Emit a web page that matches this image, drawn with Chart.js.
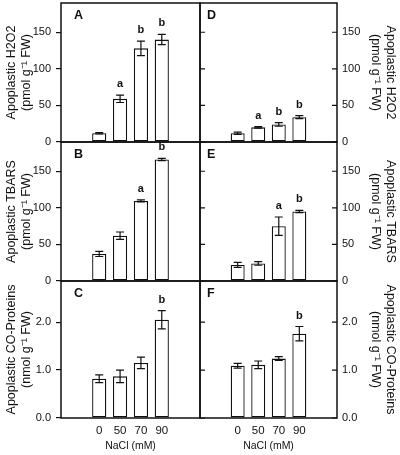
<!DOCTYPE html>
<html>
<head>
<meta charset="utf-8">
<script src="https://cdn.jsdelivr.net/npm/chart.js@4.4.0/dist/chart.umd.min.js"></script>
<style>
  body { margin: 0; background: #fff; }
  #fig { position: relative; width: 400px; height: 455px; overflow: hidden; }
  canvas { position: absolute; }
</style>
</head>
<body>
<div id="fig">
  <canvas id="pA" width="202" height="150" style="left:0;top:0"></canvas>
  <canvas id="pB" width="202" height="150" style="left:0;top:139px"></canvas>
  <canvas id="pC" width="202" height="177" style="left:0;top:278px"></canvas>
  <canvas id="pD" width="210" height="150" style="left:190px;top:0"></canvas>
  <canvas id="pE" width="210" height="150" style="left:190px;top:139px"></canvas>
  <canvas id="pF" width="210" height="177" style="left:190px;top:278px"></canvas>
</div>
<script>
// NaCl treatments
const categories = ["0", "50", "70", "90"];

// H2O2 (pmol g-1 FW)
const h2o2A = [12, 59, 128, 140];
const h2o2AErr = [1, 5, 10, 7];
const h2o2ASig = ["", "a", "b", "b"];
const h2o2D = [12, 20, 24, 34];
const h2o2DErr = [1.5, 1, 2.5, 2];
const h2o2DSig = ["", "a", "b", "b"];

// TBARS (pmol g-1 FW)
const tbarsB = [37, 62, 109.5, 166];
const tbarsBErr = [3.5, 5, 1.5, 1.5];
const tbarsBSig = ["", "", "a", "b"];
const tbarsE = [22, 24, 75, 95];
const tbarsEErr = [3.5, 2.5, 12.5, 1.5];
const tbarsESig = ["", "", "a", "b"];

// CO-proteins (nmol g-1 FW)
const coC = [0.82, 0.87, 1.15, 2.05];
const coCErr = [0.08, 0.13, 0.12, 0.19];
const coCSig = ["", "", "", "b"];
const coF = [1.09, 1.11, 1.24, 1.76];
const coFErr = [0.05, 0.08, 0.04, 0.15];
const coFSig = ["", "", "", "b"];

const pmolTicks = [0, 50, 100, 150];
const nmolTicks = [0, 1, 2];

const FONT = "'Liberation Sans', Arial, sans-serif";

// error bars, letters and frame
const extras = {
    id: "extras",
    afterDatasetsDraw(chart, args, opts) {
        const ctx = chart.ctx;
        const y = chart.scales.y;
        const meta = chart.getDatasetMeta(0);
        ctx.save();
        ctx.strokeStyle = "#111";
        ctx.lineWidth = 1.2;
        opts.values.forEach((v, i) => {
            const x = meta.data[i].x;
            const top = y.getPixelForValue(v + opts.errors[i]);
            const bot = y.getPixelForValue(v - opts.errors[i]);
            ctx.beginPath();
            ctx.moveTo(x, top); ctx.lineTo(x, bot);
            ctx.moveTo(x - 4, top); ctx.lineTo(x + 4, top);
            ctx.moveTo(x - 4, bot); ctx.lineTo(x + 4, bot);
            ctx.stroke();
            if (opts.sig[i]) {
                ctx.fillStyle = "#111";
                ctx.font = "bold 11px " + FONT;
                ctx.textAlign = "center";
                ctx.textBaseline = "middle";
                ctx.fillText(opts.sig[i], x, top - 11);
            }
        });
        ctx.restore();
    },
    afterDraw(chart, args, opts) {
        const ctx = chart.ctx;
        const a = chart.chartArea;
        ctx.save();
        ctx.strokeStyle = "#111";
        ctx.lineWidth = 1.5;
        ctx.strokeRect(a.left, a.top, a.right - a.left, a.bottom - a.top);
        if (opts.right) {
            ctx.lineWidth = 1.2;
            chart.scales.y.ticks.forEach(t => {
                const py = chart.scales.y.getPixelForValue(t.value);
                ctx.beginPath();
                ctx.moveTo(a.left, py); ctx.lineTo(a.left + 5, py);
                ctx.moveTo(a.right - 5, py); ctx.lineTo(a.right, py);
                ctx.stroke();
            });
        }
        ctx.fillStyle = "#111";
        ctx.font = "bold 12.5px " + FONT;
        ctx.textAlign = "left";
        ctx.textBaseline = "middle";
        ctx.fillText(opts.letter, a.left + (opts.right ? 7 : 13), a.top + 13);
        ctx.restore();
    }
};

function panel(id, o) {
    const right = o.side === "right";
    new Chart(document.getElementById(id), {
        type: "bar",
        data: {
            datasets: [{
                data: o.values.map((v, i) => ({ x: i, y: v })),
                backgroundColor: "#fff",
                borderColor: "#111",
                borderWidth: 1.3,
                borderSkipped: false,
                barPercentage: 0.68,
                categoryPercentage: 1
            }]
        },
        options: {
            responsive: false,
            animation: false,
            devicePixelRatio: 1,
            layout: {
                padding: {
                    top: 3,
                    bottom: o.bottom ? 0 : 8,
                    left: right ? 10 : 0,
                    right: right ? 0 : 2
                }
            },
            plugins: {
                legend: { display: false },
                tooltip: { enabled: false },
                extras: { values: o.values, errors: o.errors, sig: o.sig, letter: o.letter, right: right }
            },
            scales: {
                x: {
                    type: "linear",
                    min: -1,
                    max: 4,
                    display: !!o.bottom,
                    grid: { display: false, drawTicks: false },
                    border: { display: false },
                    afterBuildTicks: s => {
                        s.ticks = categories.map((c, i) => ({ value: i }));
                    },
                    ticks: {
                        padding: 6,
                        color: "#111",
                        font: { family: FONT, size: 11.5 },
                        callback: v => categories[v]
                    },
                    title: {
                        display: true,
                        text: "NaCl (mM)",
                        color: "#111",
                        font: { family: FONT, size: 10.5 },
                        padding: { top: 0, bottom: 3 }
                    },
                    afterFit: s => {
                        s.height = o.bottom ? 37 : 0;
                        s.paddingLeft = 0;
                        s.paddingRight = 0;
                    }
                },
                y: {
                    position: right ? "right" : "left",
                    min: 0,
                    max: o.max,
                    afterBuildTicks: s => {
                        s.ticks = o.ticks.map(v => ({ value: v }));
                    },
                    grid: { drawOnChartArea: false, drawTicks: !right, tickLength: 5, color: "#111", lineWidth: 1.2 },
                    border: { display: false },
                    ticks: {
                        padding: 5,
                        color: "#111",
                        font: { family: FONT, size: 11 },
                        callback: v => o.decimals ? v.toFixed(1) : String(v)
                    },
                    title: {
                        display: true,
                        text: o.title,
                        color: "#111",
                        font: { family: FONT, size: 12.5, lineHeight: 1.2 },
                        padding: { top: right ? 2.5 : 4.5, bottom: 0 }
                    },
                    afterFit: s => {
                        s.width = right ? 63 : 61;
                        s.paddingTop = 0;
                        s.paddingBottom = 0;
                    }
                }
            }
        },
        plugins: [extras]
    });
}

const h2o2Title = ["Apoplastic H2O2", "(pmol g\u207B\u00B9 FW)"];
const tbarsTitle = ["Apoplastic TBARS", "(pmol g\u207B\u00B9 FW)"];
const coTitle = ["Apoplastic CO-Proteins", "(nmol g\u207B\u00B9 FW)"];

panel("pA", { values: h2o2A, errors: h2o2AErr, sig: h2o2ASig, letter: "A", title: h2o2Title, max: 190, ticks: pmolTicks });
panel("pB", { values: tbarsB, errors: tbarsBErr, sig: tbarsBSig, letter: "B", title: tbarsTitle, max: 190, ticks: pmolTicks });
panel("pC", { values: coC, errors: coCErr, sig: coCSig, letter: "C", title: coTitle, max: 2.86, ticks: nmolTicks, decimals: true, bottom: true });
panel("pD", { values: h2o2D, errors: h2o2DErr, sig: h2o2DSig, letter: "D", title: h2o2Title, max: 190, ticks: pmolTicks, side: "right" });
panel("pE", { values: tbarsE, errors: tbarsEErr, sig: tbarsESig, letter: "E", title: tbarsTitle, max: 190, ticks: pmolTicks, side: "right" });
panel("pF", { values: coF, errors: coFErr, sig: coFSig, letter: "F", title: coTitle, max: 2.86, ticks: nmolTicks, decimals: true, bottom: true, side: "right" });
</script>
</body>
</html>
